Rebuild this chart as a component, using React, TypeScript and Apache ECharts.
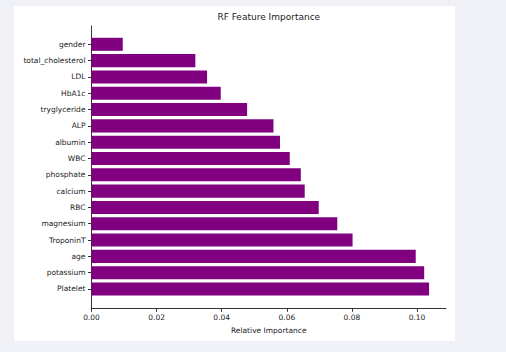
import React, { useEffect, useRef } from "react";
import * as echarts from "echarts";

const features = [
  "gender",
  "total_cholesterol",
  "LDL",
  "HbA1c",
  "tryglyceride",
  "ALP",
  "albumin",
  "WBC",
  "phosphate",
  "calcium",
  "RBC",
  "magnesium",
  "TroponinT",
  "age",
  "potassium",
  "Platelet",
];
const importance = [
  0.0096, 0.0319, 0.0355, 0.0397, 0.0478, 0.0559, 0.0579, 0.0609, 0.0643,
  0.0655, 0.0698, 0.0755, 0.0802, 0.0996, 0.1022, 0.1037,
];
const xTicks = [0, 0.02, 0.04, 0.06, 0.08, 0.1];
const xMax = 0.1089;

const FONT = "DejaVu Sans";
const TEXT = "#222";
const AXIS = "#333";

export default function App() {
  const ref = useRef<HTMLDivElement>(null);
  useEffect(() => {
    if (!ref.current) return;
    const chart = echarts.init(ref.current, null, { renderer: "svg" });
    const plotLeft = 91.5;
    const plotWidth = 354.5;
    chart.setOption({
      animation: false,
      backgroundColor: "#eff1f6",
      textStyle: { fontFamily: FONT },
      graphic: [
        {
          type: "rect",
          z: -10,
          silent: true,
          shape: { x: 14, y: 6, width: 441, height: 335 },
          style: { fill: "#ffffff" },
        },
      ],
      title: {
        text: "RF Feature Importance",
        left: plotLeft + plotWidth / 2,
        textAlign: "center",
        top: 12,
        padding: 0,
        textStyle: {
          fontFamily: FONT,
          fontSize: 9,
          fontWeight: "normal",
          color: TEXT,
        },
      },
      grid: [
        { left: plotLeft, top: 36.15, width: plotWidth, height: 261, containLabel: false },
        { left: plotLeft, top: 26, width: plotWidth, height: 282.3, containLabel: false },
      ],
      xAxis: [
        {
          type: "value",
          gridIndex: 0,
          min: 0,
          max: xMax,
          show: false,
        },
        {
          type: "value",
          gridIndex: 1,
          min: 0,
          max: xMax,
          splitLine: { show: false },
          axisLine: { show: true, lineStyle: { color: AXIS, width: 1 } },
          axisTick: {
            show: true,
            length: 3.5,
            customValues: xTicks,
            lineStyle: { color: AXIS },
          },
          axisLabel: {
            customValues: xTicks,
            formatter: (v: number) => v.toFixed(2),
            fontFamily: FONT,
            fontSize: 7.5,
            color: TEXT,
            margin: 5,
          },
          name: "Relative Importance",
          nameLocation: "middle",
          nameGap: 16,
          nameTextStyle: { fontFamily: FONT, fontSize: 7.5, color: TEXT },
        },
      ],
      yAxis: [
        {
          type: "category",
          gridIndex: 0,
          data: features,
          inverse: true,
          axisLine: { show: false },
          axisTick: {
            show: true,
            alignWithLabel: true,
            length: 3.5,
            lineStyle: { color: AXIS },
          },
          axisLabel: {
            fontFamily: FONT,
            fontSize: 7.5,
            color: TEXT,
            margin: 6,
            interval: 0,
          },
          splitLine: { show: false },
        },
        {
          type: "value",
          gridIndex: 1,
          min: 0,
          max: 1,
          axisLine: { show: true, lineStyle: { color: AXIS, width: 1 } },
          axisTick: { show: false },
          axisLabel: { show: false },
          splitLine: { show: false },
        },
      ],
      series: [
        {
          type: "bar",
          xAxisIndex: 0,
          yAxisIndex: 0,
          data: importance,
          barWidth: "80%",
          itemStyle: { color: "#800080" },
        },
      ],
    });
    return () => chart.dispose();
  }, []);
  return (
    <div
      ref={ref}
      style={{ position: "absolute", left: 0, top: 0, width: 506, height: 352 }}
    />
  );
}
